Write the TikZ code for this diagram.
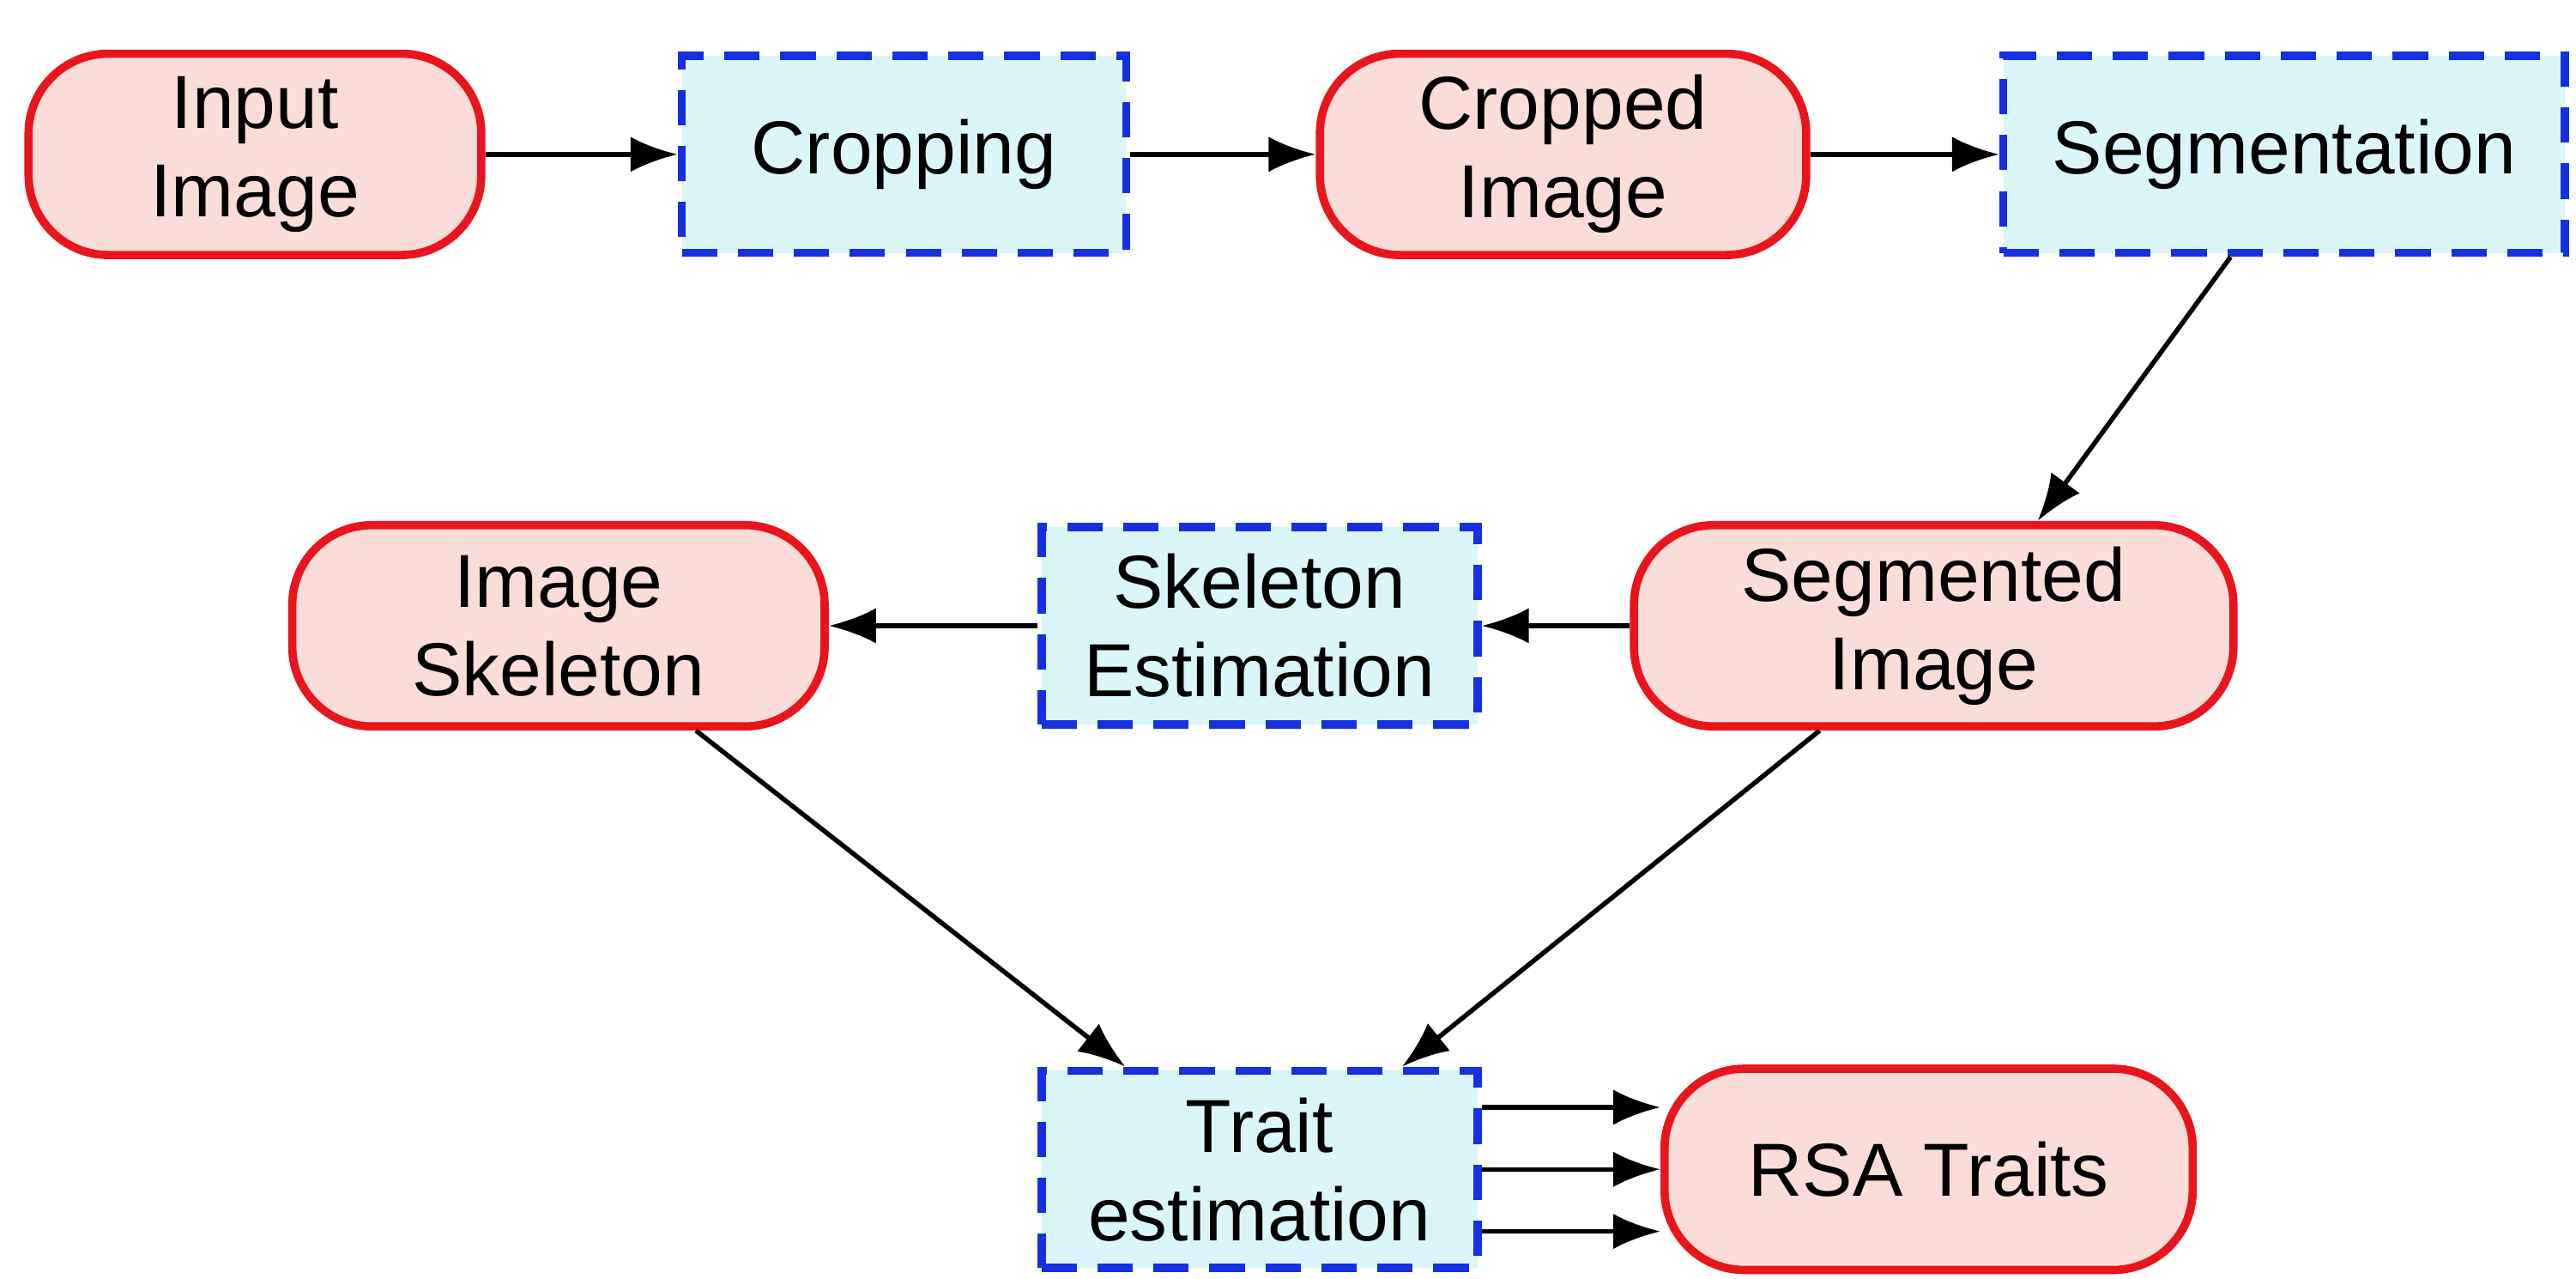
\documentclass[tikz,border=0pt]{standalone}
\usepackage{fontspec}
\setmainfont{Liberation Sans}
\usetikzlibrary{arrows.meta}
\definecolor{pinkf}{HTML}{FADCD8}
\definecolor{redd}{HTML}{E8161C}
\definecolor{bluef}{HTML}{DAF6F9}
\definecolor{blued}{HTML}{1530E0}
\begin{document}
\begin{tikzpicture}[x=0.02cm,y=-0.02cm,
  every node/.style={font=\fontsize{25.5}{30}\selectfont, align=center, inner sep=0pt},
  data/.style={draw=redd, fill=pinkf, line width=2.8pt, rounded corners=0.95cm},
  proc/.style={draw=blued, fill=bluef, line width=2.8pt, dash pattern=on 12pt off 7pt},
  arr/.style={-{Latex[length=16pt,width=12pt]}, line width=1.6pt, black}]
\useasboundingbox (0,0) rectangle (1536,762);
\node[data, minimum width=5.4cm, minimum height=2.4cm] (in) at (152,92) {Input\\Image};
\node[proc, minimum width=5.3cm, minimum height=2.35cm] (crop) at (539,92) {Cropping};
\node[data, minimum width=5.8cm, minimum height=2.4cm] (ci) at (932,92) {Cropped\\Image};
\node[proc, minimum width=6.7cm, minimum height=2.35cm] (seg) at (1362,92) {Segmentation};
\node[data, minimum width=6.35cm, minimum height=2.4cm] (sk) at (333,373) {Image\\Skeleton};
\node[proc, minimum width=5.2cm, minimum height=2.35cm] (ske) at (751,373) {Skeleton\\Estimation};
\node[data, minimum width=7.15cm, minimum height=2.4cm] (si) at (1153,373) {Segmented\\Image};
\node[proc, minimum width=5.2cm, minimum height=2.35cm] (te) at (751,697) {Trait\\estimation};
\node[data, minimum width=6.3cm, minimum height=2.4cm] (rsa) at (1150,697) {RSA Traits};
\draw[arr] (in) -- (crop);
\draw[arr] (crop) -- (ci);
\draw[arr] (ci) -- (seg);
\draw[arr] ([xshift=-0.64cm]seg.south) -- ([xshift=1.24cm]si.north);
\draw[arr] (si) -- (ske);
\draw[arr] (ske) -- (sk);
\draw[arr] ([xshift=1.64cm]sk.south) -- ([xshift=-1.6cm]te.north);
\draw[arr] ([xshift=-1.36cm]si.south) -- ([xshift=1.7cm]te.north);
\draw[arr] ([yshift=0.74cm]te.east) -- ([yshift=0.74cm]rsa.west);
\draw[arr] (te.east) -- (rsa.west);
\draw[arr] ([yshift=-0.74cm]te.east) -- ([yshift=-0.74cm]rsa.west);
\end{tikzpicture}
\end{document}
